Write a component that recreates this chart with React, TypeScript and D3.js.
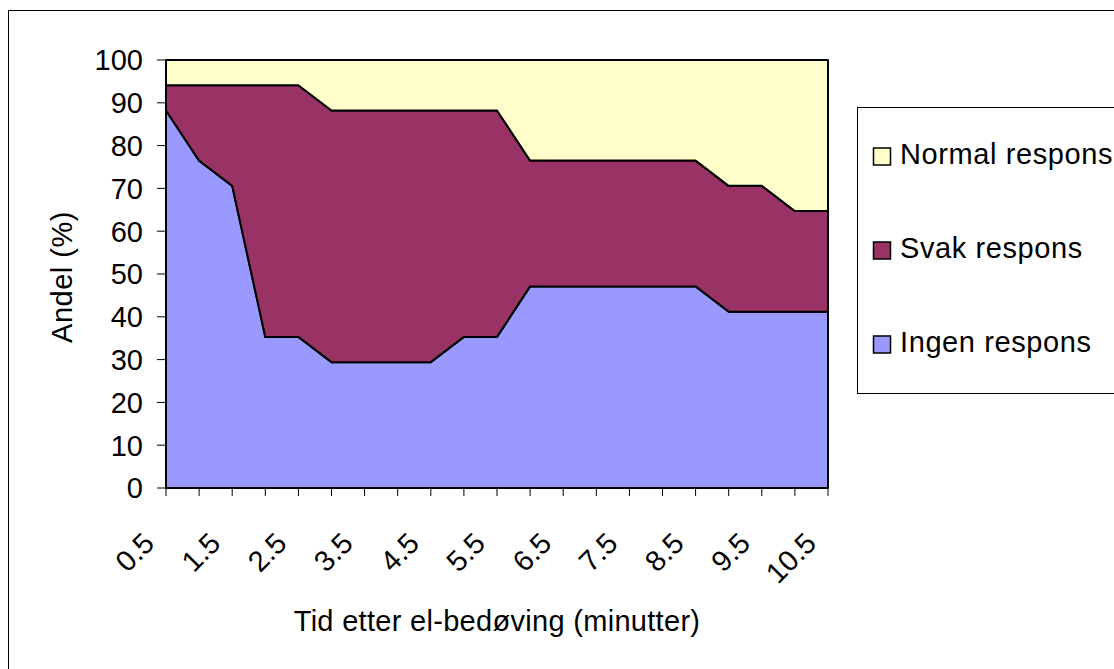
import React, { useEffect, useRef } from 'react';
import * as d3 from 'd3';

// minutes after electrical stunning
const times = ['0.5', '1', '1.5', '2', '2.5', '3', '3.5', '4', '4.5', '5', '5.5', '6', '6.5', '7', '7.5', '8', '8.5', '9', '9.5', '10', '10.5'];
const tickLabels = ['0.5', '1.5', '2.5', '3.5', '4.5', '5.5', '6.5', '7.5', '8.5', '9.5', '10.5'];

// share (%) per response class, stacked bottom to top
const ingen = [88.2, 76.5, 70.6, 35.3, 35.3, 29.4, 29.4, 29.4, 29.4, 35.3, 35.3, 47.1, 47.1, 47.1, 47.1, 47.1, 47.1, 41.2, 41.2, 41.2, 41.2];
const svak = [5.9, 17.6, 23.5, 58.8, 58.8, 58.8, 58.8, 58.8, 58.8, 52.9, 52.9, 29.4, 29.4, 29.4, 29.4, 29.4, 29.4, 29.4, 29.4, 23.5, 23.5];
const normal = [5.9, 5.9, 5.9, 5.9, 5.9, 11.8, 11.8, 11.8, 11.8, 11.8, 11.8, 23.5, 23.5, 23.5, 23.5, 23.5, 23.5, 29.4, 29.4, 35.3, 35.3];

const seriesKeys = ['Ingen respons', 'Svak respons', 'Normal respons'];
const colors: Record<string, string> = {
  'Ingen respons': '#9999FF',
  'Svak respons': '#993366',
  'Normal respons': '#FFFFCC',
};
const legendOrder = ['Normal respons', 'Svak respons', 'Ingen respons'];

const FONT = '"Liberation Sans", Arial, sans-serif';

export default function App() {
  const svgRef = useRef<SVGSVGElement>(null);

  useEffect(() => {
    if (!svgRef.current) return;
    const svg = d3.select(svgRef.current);
    svg.selectAll('*').remove();

    const left = 166, right = 828, top = 60, bottom = 488;
    const fs = 29;

    const rows = times.map((t, i) => ({
      time: t,
      'Ingen respons': ingen[i],
      'Svak respons': svak[i],
      'Normal respons': normal[i],
    }));

    const x = d3.scalePoint<string>().domain(times).range([left, right]);
    const y = d3.scaleLinear().domain([0, 100]).range([bottom, top]);

    // outer chart border
    svg.append('rect')
      .attr('x', 8.5).attr('y', 10.5)
      .attr('width', 1200).attr('height', 800)
      .attr('fill', '#fff').attr('stroke', '#000').attr('stroke-width', 1);

    const stacked = d3.stack<any>().keys(seriesKeys)(rows);
    const area = d3.area<any>()
      .x(d => x(d.data.time)!)
      .y0(d => y(d[0]))
      .y1(d => y(d[1]));

    svg.append('g').selectAll('path')
      .data(stacked)
      .enter()
      .append('path')
      .attr('d', area)
      .attr('fill', d => colors[d.key])
      .attr('stroke', '#000')
      .attr('stroke-width', 2)
      .attr('stroke-linejoin', 'round');

    // y axis
    const yTicks = d3.range(0, 101, 10);
    const ya = svg.append('g');
    ya.append('line')
      .attr('x1', left).attr('x2', left).attr('y1', top).attr('y2', bottom)
      .attr('stroke', '#000').attr('stroke-width', 1.5);
    ya.selectAll('line.t')
      .data(yTicks)
      .enter()
      .append('line')
      .attr('class', 't')
      .attr('x1', left - 9).attr('x2', left)
      .attr('y1', d => y(d)).attr('y2', d => y(d))
      .attr('stroke', '#000').attr('stroke-width', 1);
    ya.selectAll('text')
      .data(yTicks)
      .enter()
      .append('text')
      .attr('x', 143)
      .attr('y', d => y(d))
      .attr('dy', '0.36em')
      .attr('text-anchor', 'end')
      .style('font-family', FONT)
      .style('font-size', `${fs}px`)
      .text(d => d);

    // x axis
    const xa = svg.append('g');
    xa.append('line')
      .attr('x1', left).attr('x2', right).attr('y1', bottom).attr('y2', bottom)
      .attr('stroke', '#000').attr('stroke-width', 2);
    xa.selectAll('line.t')
      .data(times)
      .enter()
      .append('line')
      .attr('class', 't')
      .attr('x1', d => x(d)!).attr('x2', d => x(d)!)
      .attr('y1', bottom).attr('y2', bottom + 8)
      .attr('stroke', '#000').attr('stroke-width', 1);
    xa.selectAll('text')
      .data(tickLabels)
      .enter()
      .append('text')
      .attr('transform', d => `translate(${x(d)! - 10},545) rotate(-45)`)
      .attr('text-anchor', 'end')
      .style('font-family', FONT)
      .style('font-size', `${fs}px`)
      .text(d => d);

    // axis titles
    svg.append('text')
      .attr('x', (left + right) / 2)
      .attr('y', 631)
      .attr('text-anchor', 'middle')
      .style('font-family', FONT)
      .style('font-size', `${fs}px`)
      .style('letter-spacing', '0.3px')
      .text('Tid etter el-bedøving (minutter)');

    svg.append('text')
      .attr('transform', `translate(72,277) rotate(-90)`)
      .attr('text-anchor', 'middle')
      .style('font-family', FONT)
      .style('font-size', `${fs}px`)
      .style('letter-spacing', '0.5px')
      .text('Andel (%)');

    // legend
    const lg = svg.append('g');
    lg.append('rect')
      .attr('x', 857.5).attr('y', 107.5)
      .attr('width', 400).attr('height', 286)
      .attr('fill', '#fff').attr('stroke', '#000').attr('stroke-width', 1);
    const baselines = [164, 258, 352];
    legendOrder.forEach((k, i) => {
      lg.append('rect')
        .attr('x', 873.5).attr('y', baselines[i] - 16)
        .attr('width', 17).attr('height', 17)
        .attr('fill', colors[k])
        .attr('stroke', '#000').attr('stroke-width', 1.5);
      lg.append('text')
        .attr('x', 900).attr('y', baselines[i])
        .style('font-family', FONT)
        .style('font-size', `${fs}px`)
        .style('letter-spacing', '0.6px')
        .text(k);
    });
  }, []);

  return (
    <svg
      ref={svgRef}
      width={1114}
      height={669}
      style={{ position: 'absolute', left: 0, top: 0, display: 'block', background: '#fff' }}
    />
  );
}
